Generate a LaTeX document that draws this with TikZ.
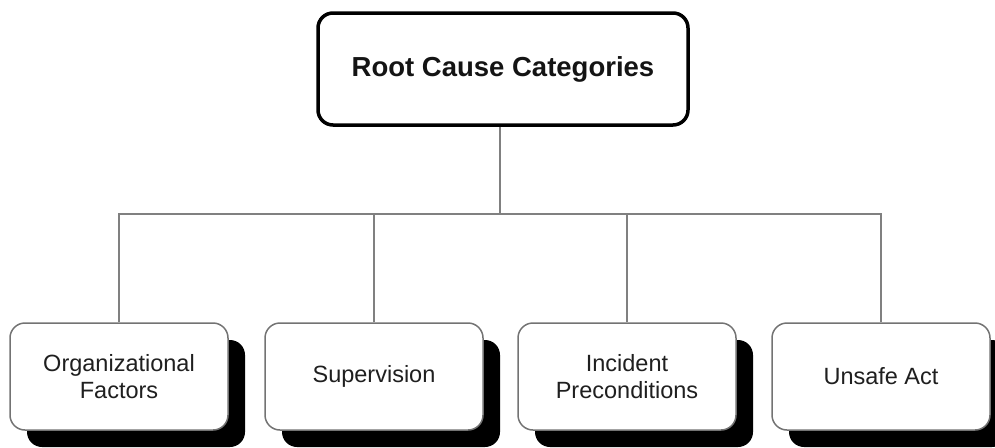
\documentclass[tikz,border=0pt]{standalone}
\usepackage{fontspec}
\setmainfont{Liberation Sans}
\usetikzlibrary{shadows}
\begin{document}
\begin{tikzpicture}[x=1pt,y=-1pt,
  rootbox/.style={draw=black, line width=3.5pt, rounded corners=15pt, fill=white,
    minimum width=370pt, minimum height=112pt, inner sep=0pt,
    font=\fontsize{27.5}{32}\selectfont\bfseries, text=black!92},
  catbox/.style={draw=black!55, line width=1.5pt, rounded corners=15pt, fill=white,
    minimum width=218pt, minimum height=107pt, inner sep=0pt, align=center,
    font=\fontsize{23.5}{26.5}\selectfont, text=black!88,
    drop shadow={shadow xshift=17pt, shadow yshift=-17pt, fill=black, opacity=1}},
  conn/.style={draw=black!50, line width=2pt}
]
\useasboundingbox (0,0) rectangle (995,447);

% top category box
\node[rootbox] (root) at (503,69) {Root Cause Categories};

% the four root cause categories
\node[catbox] (b1) at (119,376.5) {Organizational\\Factors};
\node[catbox] (b2) at (374,376.5) {Supervision};
\node[catbox] (b3) at (627,376.5) {Incident\\Preconditions};
\node[catbox] (b4) at (881,376.5) {Unsafe Act};

% tree connectors
\coordinate (hub) at (500,214);
\draw[conn] (hub |- root.south) -- (hub);
\draw[conn] (b1.north) -- (b1.north |- hub) -- (b4.north |- hub) -- (b4.north);
\draw[conn] (b2.north) -- (b2.north |- hub);
\draw[conn] (b3.north) -- (b3.north |- hub);
\end{tikzpicture}
\end{document}
